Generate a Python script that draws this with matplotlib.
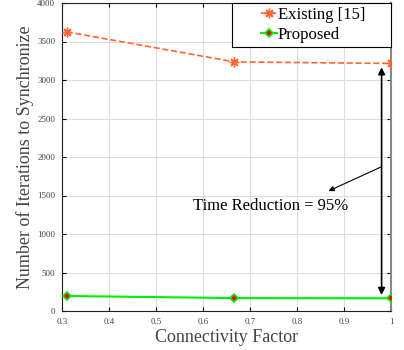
import matplotlib
matplotlib.use("Agg")
import matplotlib.pyplot as plt
from matplotlib.legend_handler import HandlerLine2D

plt.rcParams['font.family'] = ['Liberation Serif', 'DejaVu Serif']
plt.rcParams['mathtext.fontset'] = 'stix'

conn = [0.31, 0.667, 1.0]
existing = [3625, 3235, 3215]
proposed = [195, 168, 165]
xticks = [0.3, 0.4, 0.5, 0.6, 0.7, 0.8, 0.9, 1.0]
xticklabels = ['0.3', '0.4', '0.5', '0.6', '0.7', '0.8', '0.9', '1']
yticks = [0, 500, 1000, 1500, 2000, 2500, 3000, 3500, 4000]


class RightHandler(HandlerLine2D):
    """Draw the legend handle only in the right part of the handle box."""
    frac = 0.4

    def create_artists(self, legend, orig_handle, xdescent, ydescent,
                       width, height, fontsize, trans):
        arts = super().create_artists(legend, orig_handle, xdescent, ydescent,
                                      width, height, fontsize, trans)
        x0 = -xdescent
        x1 = x0 + width
        for a in arts:
            xs = a.get_xdata()
            new = [x1 - self.frac * width + (x - x0) * self.frac for x in xs]
            a.set_xdata(new)
        return arts


fig = plt.figure(figsize=(4.04, 3.5), dpi=100)
ax = fig.add_axes([62/404, 39/350, 329/404, 308/350])

l1, = ax.plot(conn, existing, linestyle='--', color='#FF6633', marker=(8, 2, 0),
              markersize=7, markeredgewidth=1.0,
              linewidth=1.2, label='Existing [15]', zorder=3)
l2, = ax.plot(conn, proposed, linestyle='-', color='#00EE00', marker='D', markersize=4,
              markerfacecolor='red', markeredgecolor='#00EE00', markeredgewidth=1.2,
              linewidth=1.5, label='Proposed', zorder=3)

ax.set_xlim(0.3, 1.0)
ax.set_ylim(0, 4000)
ax.set_xticks(xticks)
ax.set_xticklabels(xticklabels)
ax.set_yticks(yticks)
ax.grid(True, color='#DDDDDD', linewidth=0.8)
ax.set_axisbelow(True)
ax.tick_params(direction='in', top=True, right=True, labelsize=6.5, length=3,
               labelcolor='#444444', pad=5)
for s in ['left', 'bottom', 'top']:
    ax.spines[s].set_color('#222222')
ax.spines['right'].set_color('#888888')
ax.spines['right'].set_linewidth(1.5)

ax.set_xlabel('Connectivity Factor', fontsize=13, color='#444444', labelpad=2)
ax.set_ylabel('Number of Iterations to Synchronize', fontsize=13, color='#444444', labelpad=2)

ax.annotate('', xy=(0.98, 3165), xytext=(0.98, 208),
            arrowprops=dict(arrowstyle='<|-|>', color='black', lw=1.2,
                            mutation_scale=10, shrinkA=0, shrinkB=0))
ax.annotate('', xy=(0.867, 1558), xytext=(0.98, 1874),
            arrowprops=dict(arrowstyle='-|>', color='black', lw=0.8,
                            mutation_scale=8, shrinkA=0, shrinkB=0))
ax.text(0.579, 1364, 'Time Reduction = 95%', fontsize=12, ha='left', va='center')

leg = ax.legend(handles=[l1, l2], loc='upper right',
                bbox_to_anchor=(0.517, 0.0, 0.483, 1.0), mode='expand',
                borderaxespad=0, fancybox=False,
                edgecolor='black', framealpha=1, fontsize=12, handlelength=2.45,
                handletextpad=0.05, borderpad=0.24, labelspacing=0.24,
                handler_map={l1: RightHandler(), l2: RightHandler()})
leg.get_frame().set_linewidth(0.8)

fig.savefig('out.png', dpi=100)
